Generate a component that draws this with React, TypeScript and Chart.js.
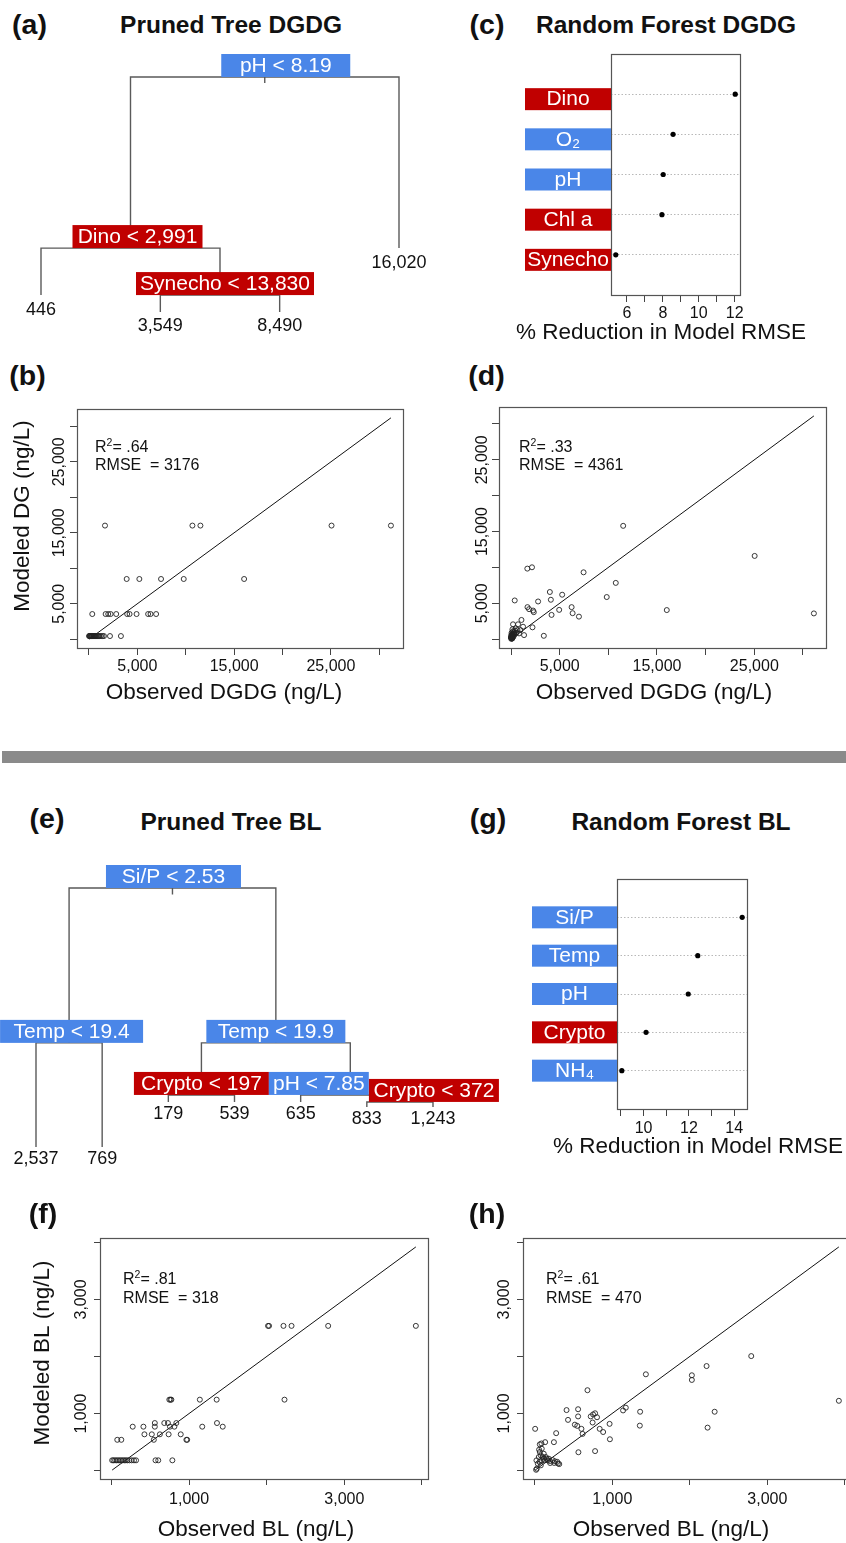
import React, { useEffect, useRef } from 'react';
import { Chart, registerables } from 'chart.js';

Chart.register(...registerables);

const FAMILY = '"Liberation Sans", Arial, Helvetica, sans-serif';
const BLUE = '#4a86e8';
const RED = '#c00000';
const INK = '#111111';

// ---------------- (a) Pruned tree DGDG (rpart node numbering) ----------------
const dgTreeNodeIds = [1, 2, 3, 4, 5, 10, 11];
const dgTreeNodeText = ['pH < 8.19', 'Dino < 2,991', '16,020', '446', 'Synecho < 13,830', '3,549', '8,490'];
const dgTreeNodeHeight = [1, 0.272, 0.272, 0.072, 0.072, 0, 0];
const dgTreeNodeGroup = ['env', 'bio', '', '', 'bio', '', ''];

// ---------------- (e) Pruned tree BL ----------------
const blTreeNodeIds = [1, 2, 3, 4, 5, 6, 7, 12, 13, 14, 15, 30, 31];
const blTreeNodeText = ['Si/P < 2.53', 'Temp < 19.4', 'Temp < 19.9', '2,537', '769', 'Crypto < 197', 'pH < 7.85', '179', '539', '635', 'Crypto < 372', '833', '1,243'];
const blTreeNodeHeight = [1, 0.402, 0.402, 0, 0, 0.201, 0.201, 0.174, 0.174, 0.174, 0.174, 0.154, 0.154];
const blTreeNodeGroup = ['env', 'env', 'env', '', '', 'bio', 'env', '', '', '', 'bio', '', ''];

// ---------------- (c) Random forest DGDG ----------------
const cLabels = ['Dino', 'O₂', 'pH', 'Chl a', 'Synecho'];
const cValues = [12.03, 8.57, 8.02, 7.95, 5.38];
const cGroups = ['bio', 'env', 'env', 'bio', 'bio'];
const cTicks = [6, 7, 8, 9, 10, 11, 12];
const cTickLabels = [6, 8, 10, 12];

// ---------------- (g) Random forest BL ----------------
const gLabels = ['Si/P', 'Temp', 'pH', 'Crypto', 'NH₄'];
const gValues = [14.35, 12.39, 11.97, 10.11, 9.04];
const gGroups = ['env', 'env', 'env', 'bio', 'env'];
const gTicks = [9, 10, 11, 12, 13, 14];
const gTickLabels = [10, 12, 14];

// ---------------- (b) Pruned tree DGDG: observed vs modeled ----------------
const bObserved = [
  1655, 10690, 11517, 25069, 31207,
  3896, 5207, 7448, 9793, 16034,
  340, 1722, 1990, 2237, 2815, 3949, 4196, 4918, 6114, 6361, 6939,
  2170, 3300, 10, 50, 90, 140, 190, 240, 290, 340, 410, 480, 550, 630, 710, 800, 900, 1000, 1100, 1250, 1400, 1550,
];
const bModeled = [
  16020, 16020, 16020, 16020, 16020,
  8490, 8490, 8490, 8490, 8490,
  3549, 3549, 3549, 3549, 3549, 3549, 3549, 3549, 3549, 3549, 3549,
  446, 446, 446, 446, 446, 446, 446, 446, 446, 446, 446, 446, 446, 446, 446, 446, 446, 446, 446, 446, 446, 446,
];

// ---------------- (d) Random forest DGDG: observed vs modeled ----------------
const dObserved = [
  31122, 25034, 16006, 11525, 10764, 9836, 7456, 6980, 6330, 6227, 5258, 4949, 4165, 4093, 3990, 3371,
  2784, 2340, 2268, 2206, 2155, 1856, 1691, 1676, 1340, 1237, 1072, 969, 825, 722, 659, 557, 485, 381,
  381, 350, 206, 206, 144, 144, 10, 50, 100, 30, 80, 150, 250, 20, 120, 60, 300, 200, 420, 10, 90, 170, 40, 110, 260,
  70, 130, 190, 30, 60,
];
const dModeled = [
  3588, 11603, 4054, 15797, 7843, 5871, 9320, 3140, 3618, 4463, 6195, 4083, 3379, 5491, 6575, 465,
  5252, 3759, 3985, 1647, 10019, 4181, 4463, 9833, 563, 1732, 2675, 1267, 802, 2070, 1267, 887, 1506, 5393,
  802, 600, 2070, 563, 1365, 516, 282, 150, 300, 400, 80, 200, 350, 50, 700, 900, 1000, 1100, 1200, 200, 450, 620, 250, 120, 780,
  160, 90, 420, 600, 230,
];

// ---------------- (f) Pruned tree BL: observed vs modeled ----------------
const fObserved = [
  2017, 2030, 2216, 2320, 2792, 3922,
  745, 760, 771, 1138, 1355, 2229,
  558, 680, 727, 835, 1359,
  273, 411, 558, 753, 810, 1169, 1433,
  424, 519, 623, 736, 892,
  74, 126, 545, 965, 975,
  567, 602, 784, 8, 25, 45, 65, 85, 105, 125, 145, 165, 185, 205, 230, 260, 290, 316,
];
const fModeled = [
  2537, 2537, 2537, 2537, 2537, 2537,
  1243, 1243, 1243, 1243, 1243, 1243,
  833, 833, 833, 833, 833,
  769, 769, 769, 769, 769, 769, 769,
  635, 635, 635, 635, 635,
  539, 539, 539, 539, 539,
  179, 179, 179, 179, 179, 179, 179, 179, 179, 179, 179, 179, 179, 179, 179, 179, 179, 179,
];

// ---------------- (h) Random forest BL: observed vs modeled ----------------
const hObserved = [
  3922, 2792, 2216, 2320, 2229, 2026, 2026, 1433, 1359, 1355, 1174, 1139, 965, 969, 882, 837, 778, 752, 722,
  803, 746, 680, 602, 617, 559, 559, 517, 548, 563, 778, 410, 429, 276, 247, 134, 86, 5,
  22, 39, 52, 65, 78, 90, 103, 116, 129, 142, 155, 168, 181, 194, 198, 61, 78, 26, 17, 56, 90, 116, 65,
  230, 260, 290, 250, 300, 316,
];
const hModeled = [
  1221, 2006, 1831, 1029, 750, 1669, 1587, 1686, 1029, 785, 1100, 1052, 816, 546, 673, 729, 1002, 982, 947,
  932, 840, 1407, 729, 640, 1073, 947, 802, 781, 318, 338, 1058, 886, 653, 495, 495, 472, 729,
  175, 117, 234, 322, 263, 175, 234, 205, 175, 234, 205, 175, 205, 164, 129, 146, 88, 29, 10, 363, 380, 292, 456,
  180, 160, 150, 130, 120, 110,
];

const dgTicks = [0, 5000, 10000, 15000, 20000, 25000, 30000];
const dgTickLabels = [5000, 15000, 25000];
const blTicks = [0, 1000, 2000, 3000, 4000];
const blTickLabels = [1000, 3000];

// ---------------- helpers ----------------
const fmt = (v: number) => v.toLocaleString('en-US');
const fnt = (s: number, b = false) => `${b ? 'bold ' : ''}${s}px ${FAMILY}`;
const groupColor = (g: string) => (g === 'env' ? BLUE : RED);

type Rect = { left: number; top: number; width: number; height: number };
type Area = { left: number; top: number; right: number; bottom: number };

function linX(rect: Rect, vA: number, pA: number, vB: number, pB: number) {
  const k = (pB - pA) / (vB - vA);
  const min = vA - (pA - rect.left) / k;
  return { min, max: min + rect.width / k };
}
function linY(rect: Rect, vA: number, pA: number, vB: number, pB: number) {
  const k = (pB - pA) / (vA - vB);
  const max = vA + (pA - rect.top) / k;
  return { min: max - rect.height / k, max };
}
function paddedRange(vals: number[]) {
  const lo = Math.min(...vals);
  const hi = Math.max(...vals);
  const e = (hi - lo) * 0.04;
  return { lo, hi, min: lo - e, max: hi + e };
}
function areaLayout(rect: Rect, area: Area) {
  return {
    padding: { left: 0, top: area.top - rect.top, right: rect.left + rect.width - area.right, bottom: 0 },
    yWidth: area.left - rect.left,
    xHeight: rect.top + rect.height - area.bottom,
  };
}
const fixedTicks = (values: number[]) => (sc: any) => {
  sc.ticks = values.map((v) => ({ value: v }));
};
const baseOptions = {
  responsive: false,
  animation: false,
  events: [],
  plugins: { legend: { display: false }, tooltip: { enabled: false } },
};

function drawRotated(ctx: CanvasRenderingContext2D, text: string, x: number, y: number) {
  ctx.save();
  ctx.translate(x, y);
  ctx.rotate(-Math.PI / 2);
  ctx.fillText(text, 0, 0);
  ctx.restore();
}

// ---------------- tree chart ----------------
type TreeSpec = {
  rect: Rect;
  ids: number[];
  text: string[];
  height: number[];
  group: string[];
  leafPx: [number, number];
  heightPx: [number, number];
  boxW: Record<number, number>;
  boxDx: Record<number, number>;
  leafDy: number;
};

function treeConfig(t: TreeSpec): any {
  const idx = new Map<number, number>();
  t.ids.forEach((id, i) => idx.set(id, i));
  const nodes = t.ids.map((id, i) => ({
    id,
    text: t.text[i],
    h: t.height[i],
    group: t.group[i],
    leaf: !idx.has(2 * id),
    x: 0,
  }));
  let leafCount = 0;
  const place = (id: number): number => {
    const n = nodes[idx.get(id)!];
    if (n.leaf) {
      n.x = leafCount++;
      return n.x;
    }
    const l = place(2 * id);
    const r = place(2 * id + 1);
    n.x = (l + r) / 2;
    return n.x;
  };
  place(1);
  const node = (id: number) => nodes[idx.get(id)!];
  const lineStyle = { showLine: true, pointRadius: 0, borderColor: '#5a5a5a', borderWidth: 1.4, fill: false };
  const datasets: any[] = nodes
    .filter((n) => !n.leaf)
    .map((n) => {
      const L = node(2 * n.id);
      const R = node(2 * n.id + 1);
      return {
        ...lineStyle,
        data: [
          { x: L.x, y: L.h },
          { x: L.x, y: n.h },
          { x: R.x, y: n.h },
          { x: R.x, y: R.h },
        ],
      };
    });
  const root = node(1);
  datasets.push({ ...lineStyle, data: [{ x: root.x, y: root.h }, { x: root.x, y: root.h - 0.025 }] });

  const xr = linX(t.rect, 0, t.leafPx[0], leafCount - 1, t.leafPx[1]);
  const yr = linY(t.rect, 1, t.heightPx[0], 0, t.heightPx[1]);

  const plugin = {
    id: 'treeLabels',
    afterDatasetsDraw(chart: any) {
      const ctx: CanvasRenderingContext2D = chart.ctx;
      const sx = chart.scales.x;
      const sy = chart.scales.y;
      ctx.save();
      ctx.textAlign = 'center';
      ctx.textBaseline = 'middle';
      for (const n of nodes) {
        const px = sx.getPixelForValue(n.x);
        const py = sy.getPixelForValue(n.h);
        if (n.leaf) {
          ctx.font = fnt(18);
          ctx.fillStyle = INK;
          ctx.fillText(n.text, px, py + t.leafDy);
        } else {
          ctx.font = fnt(21);
          const w = t.boxW[n.id] ?? ctx.measureText(n.text).width + 10;
          const cx = px + (t.boxDx[n.id] ?? 0);
          ctx.fillStyle = groupColor(n.group);
          ctx.fillRect(cx - w / 2, py - 23, w, 23);
          ctx.fillStyle = '#ffffff';
          ctx.fillText(n.text, cx, py - 11);
        }
      }
      ctx.restore();
    },
  };

  return {
    type: 'scatter',
    data: { datasets },
    options: {
      ...baseOptions,
      layout: { padding: 0 },
      scales: {
        x: { type: 'linear', display: false, min: xr.min, max: xr.max },
        y: { type: 'linear', display: false, min: yr.min, max: yr.max },
      },
    },
    plugins: [plugin],
  };
}

// ---------------- dot chart (variable importance) ----------------
type DotSpec = {
  rect: Rect;
  area: Area;
  labels: string[];
  values: number[];
  groups: string[];
  ticks: number[];
  tickLabels: number[];
  labelW: number;
  labelDy: number;
  tickPad: number;
  title: string;
  titleAt: [number, number];
};

function dotConfig(d: DotSpec): any {
  const r = paddedRange(d.values);
  const L = areaLayout(d.rect, d.area);
  const n = d.values.length;
  const rows = d.values.map((_, i) => i).concat([n, n + 1]);
  const ox = d.rect.left;
  const oy = d.rect.top;
  const plugin = {
    id: 'dotDecor',
    afterDraw(chart: any) {
      const ctx: CanvasRenderingContext2D = chart.ctx;
      const a = chart.chartArea;
      const sy = chart.scales.y;
      ctx.save();
      ctx.strokeStyle = '#555';
      ctx.lineWidth = 1.2;
      ctx.strokeRect(Math.round(a.left) + 0.5, Math.round(a.top) + 0.5, Math.round(a.right - a.left), Math.round(a.bottom - a.top));
      ctx.textAlign = 'center';
      ctx.textBaseline = 'middle';
      ctx.font = fnt(21);
      d.labels.forEach((lab, i) => {
        const cy = sy.getPixelForValue(n - i) + d.labelDy;
        ctx.fillStyle = groupColor(d.groups[i]);
        ctx.fillRect(a.left - d.labelW, cy - 11, d.labelW, 22);
        ctx.fillStyle = '#ffffff';
        ctx.fillText(lab, a.left - d.labelW / 2, cy + 0.5);
      });
      ctx.fillStyle = INK;
      ctx.font = fnt(22.5);
      ctx.fillText(d.title, d.titleAt[0] - ox, d.titleAt[1] - oy);
      ctx.restore();
    },
  };
  return {
    type: 'scatter',
    data: {
      datasets: [
        {
          data: d.values.map((v, i) => ({ x: v, y: n - i })),
          pointRadius: 2.6,
          pointBorderWidth: 0,
          pointBackgroundColor: '#000',
          showLine: false,
        },
      ],
    },
    options: {
      ...baseOptions,
      layout: { padding: L.padding },
      scales: {
        x: {
          type: 'linear',
          min: r.min,
          max: r.max,
          afterBuildTicks: fixedTicks(d.ticks),
          afterFit: (sc: any) => {
            sc.height = L.xHeight;
          },
          grid: { drawOnChartArea: false, drawTicks: true, tickLength: 7, color: '#444', lineWidth: 1 },
          border: { display: false },
          ticks: {
            autoSkip: false,
            maxRotation: 0,
            minRotation: 0,
            padding: d.tickPad,
            color: INK,
            font: { family: FAMILY, size: 16 },
            callback: (v: number) => (d.tickLabels.includes(v) ? String(v) : ''),
          },
        },
        y: {
          type: 'linear',
          min: 0,
          max: n + 1,
          afterBuildTicks: fixedTicks(rows),
          afterFit: (sc: any) => {
            sc.width = L.yWidth;
          },
          grid: {
            drawOnChartArea: true,
            drawTicks: false,
            lineWidth: 1,
            color: (c: any) => (c.tick && c.tick.value >= 1 && c.tick.value <= n ? '#b8b8b8' : 'rgba(0,0,0,0)'),
          },
          border: { display: false, dash: [1.5, 2] },
          ticks: { display: false },
        },
      },
    },
    plugins: [plugin],
  };
}

// ---------------- observed vs modeled scatter ----------------
type ScatterSpec = {
  rect: Rect;
  area: Area;
  obs: number[];
  mod: number[];
  ticks: number[];
  tickLabels: number[];
  yLabelX: number;
  tickLen: number;
  tickPad: number;
  xTitle: string;
  xTitleAt: [number, number];
  yTitle?: string;
  yTitleAt?: [number, number];
  r2: string;
  rmse: string;
  noteX: number;
  noteY: [number, number];
};

function scatterConfig(s: ScatterSpec): any {
  const r = paddedRange(s.obs);
  const L = areaLayout(s.rect, s.area);
  const ox = s.rect.left;
  const oy = s.rect.top;
  const plugin = {
    id: 'scatterDecor',
    afterDraw(chart: any) {
      const ctx: CanvasRenderingContext2D = chart.ctx;
      const a = chart.chartArea;
      const sy = chart.scales.y;
      ctx.save();
      ctx.strokeStyle = '#555';
      ctx.lineWidth = 1.2;
      ctx.strokeRect(Math.round(a.left) + 0.5, Math.round(a.top) + 0.5, Math.round(a.right - a.left), Math.round(a.bottom - a.top));
      ctx.fillStyle = INK;
      ctx.textAlign = 'center';
      ctx.textBaseline = 'middle';
      ctx.font = fnt(16);
      for (const v of s.tickLabels) {
        drawRotated(ctx, fmt(v), s.yLabelX - ox, sy.getPixelForValue(v));
      }
      ctx.font = fnt(22.5);
      ctx.fillText(s.xTitle, s.xTitleAt[0] - ox, s.xTitleAt[1] - oy);
      if (s.yTitle && s.yTitleAt) drawRotated(ctx, s.yTitle, s.yTitleAt[0] - ox, s.yTitleAt[1] - oy);
      ctx.textAlign = 'left';
      ctx.textBaseline = 'alphabetic';
      ctx.font = fnt(16);
      let x = s.noteX - ox;
      const y1 = s.noteY[0] - oy;
      ctx.fillText('R', x, y1);
      x += ctx.measureText('R').width;
      ctx.font = fnt(10.5);
      ctx.fillText('2', x, y1 - 6);
      x += ctx.measureText('2').width;
      ctx.font = fnt(16);
      ctx.fillText('= ' + s.r2, x, y1);
      ctx.fillText('RMSE  = ' + s.rmse, s.noteX - ox, s.noteY[1] - oy);
      ctx.restore();
    },
  };
  const axisCommon = {
    type: 'linear',
    min: r.min,
    max: r.max,
    afterBuildTicks: fixedTicks(s.ticks),
    grid: { drawOnChartArea: false, drawTicks: true, tickLength: s.tickLen, color: '#444', lineWidth: 1 },
    border: { display: false },
  };
  return {
    type: 'scatter',
    data: {
      datasets: [
        {
          data: s.obs.map((o, i) => ({ x: o, y: s.mod[i] })),
          pointRadius: 2.5,
          pointBorderWidth: 0.9,
          pointBorderColor: '#222',
          pointBackgroundColor: 'rgba(0,0,0,0)',
          showLine: false,
        },
        {
          data: [
            { x: r.lo, y: r.lo },
            { x: r.hi, y: r.hi },
          ],
          showLine: true,
          pointRadius: 0,
          borderColor: '#111',
          borderWidth: 1,
        },
      ],
    },
    options: {
      ...baseOptions,
      layout: { padding: L.padding },
      scales: {
        x: {
          ...axisCommon,
          afterFit: (sc: any) => {
            sc.height = L.xHeight;
          },
          ticks: {
            autoSkip: false,
            maxRotation: 0,
            minRotation: 0,
            padding: s.tickPad,
            color: INK,
            font: { family: FAMILY, size: 16 },
            callback: (v: number) => (s.tickLabels.includes(v) ? fmt(v) : ''),
          },
        },
        y: {
          ...axisCommon,
          afterFit: (sc: any) => {
            sc.width = L.yWidth;
          },
          ticks: { display: false },
        },
      },
    },
    plugins: [plugin],
  };
}

// ---------------- components ----------------
function ChartBox({ rect, build }: { rect: Rect; build: () => any }) {
  const ref = useRef<HTMLCanvasElement>(null);
  useEffect(() => {
    const chart = new Chart(ref.current as HTMLCanvasElement, build());
    return () => chart.destroy();
  }, []);
  return (
    <canvas
      ref={ref}
      width={rect.width}
      height={rect.height}
      style={{ position: 'absolute', left: rect.left, top: rect.top, width: rect.width, height: rect.height }}
    />
  );
}

function Txt({ x, y, text, size, bold = true }: { x: number; y: number; text: string; size: number; bold?: boolean }) {
  return (
    <div
      style={{
        position: 'absolute',
        left: x,
        top: y,
        transform: 'translate(-50%, -50%)',
        font: fnt(size, bold),
        lineHeight: 1,
        whiteSpace: 'nowrap',
        color: INK,
      }}
    >
      {text}
    </div>
  );
}

const rectA: Rect = { left: 0, top: 40, width: 440, height: 310 };
const rectC: Rect = { left: 440, top: 40, width: 406, height: 310 };
const rectB: Rect = { left: 0, top: 395, width: 423, height: 330 };
const rectD: Rect = { left: 423, top: 395, width: 423, height: 330 };
const rectE: Rect = { left: 0, top: 850, width: 520, height: 330 };
const rectG: Rect = { left: 440, top: 860, width: 406, height: 320 };
const rectF: Rect = { left: 0, top: 1225, width: 440, height: 318 };
const rectH: Rect = { left: 423, top: 1225, width: 440, height: 318 };

export default function App() {
  return (
    <div
      style={{
        position: 'absolute',
        left: 0,
        top: 0,
        width: 846,
        height: 1543,
        overflow: 'hidden',
        background: '#ffffff',
        fontFamily: FAMILY,
      }}
    >
      <ChartBox
        rect={rectA}
        build={() =>
          treeConfig({
            rect: rectA,
            ids: dgTreeNodeIds,
            text: dgTreeNodeText,
            height: dgTreeNodeHeight,
            group: dgTreeNodeGroup,
            leafPx: [41, 399],
            heightPx: [77, 312],
            boxW: { 1: 129, 2: 130, 5: 178 },
            boxDx: { 1: 21, 2: 7, 5: 5 },
            leafDy: 14.5,
          })
        }
      />
      <ChartBox
        rect={rectC}
        build={() =>
          dotConfig({
            rect: rectC,
            area: { left: 611, top: 54, right: 740, bottom: 295 },
            labels: cLabels,
            values: cValues,
            groups: cGroups,
            ticks: cTicks,
            tickLabels: cTickLabels,
            labelW: 86,
            labelDy: 5,
            tickPad: 1.5,
            title: '% Reduction in Model RMSE',
            titleAt: [661, 333],
          })
        }
      />
      <ChartBox
        rect={rectB}
        build={() =>
          scatterConfig({
            rect: rectB,
            area: { left: 77, top: 409, right: 403, bottom: 648 },
            obs: bObserved,
            mod: bModeled,
            ticks: dgTicks,
            tickLabels: dgTickLabels,
            yLabelX: 60,
            tickLen: 7,
            tickPad: 2.4,
            xTitle: 'Observed DGDG (ng/L)',
            xTitleAt: [224, 693],
            yTitle: 'Modeled DG (ng/L)',
            yTitleAt: [23, 516],
            r2: '.64',
            rmse: '3176',
            noteX: 95,
            noteY: [452, 470],
          })
        }
      />
      <ChartBox
        rect={rectD}
        build={() =>
          scatterConfig({
            rect: rectD,
            area: { left: 499, top: 407, right: 826, bottom: 648 },
            obs: dObserved,
            mod: dModeled,
            ticks: dgTicks,
            tickLabels: dgTickLabels,
            yLabelX: 483,
            tickLen: 7,
            tickPad: 2.4,
            xTitle: 'Observed DGDG (ng/L)',
            xTitleAt: [654, 693],
            r2: '.33',
            rmse: '4361',
            noteX: 519,
            noteY: [452, 470],
          })
        }
      />
      <ChartBox
        rect={rectE}
        build={() =>
          treeConfig({
            rect: rectE,
            ids: blTreeNodeIds,
            text: blTreeNodeText,
            height: blTreeNodeHeight,
            group: blTreeNodeGroup,
            leafPx: [36, 433],
            heightPx: [888, 1147],
            boxW: { 1: 135, 2: 143, 3: 139, 6: 135, 7: 100, 15: 130 },
            boxDx: { 1: 1, 2: 2.5, 3: 0, 6: 0, 7: -31.5, 15: 34 },
            leafDy: 12,
          })
        }
      />
      <ChartBox
        rect={rectG}
        build={() =>
          dotConfig({
            rect: rectG,
            area: { left: 617, top: 879, right: 747, bottom: 1109 },
            labels: gLabels,
            values: gValues,
            groups: gGroups,
            ticks: gTicks,
            tickLabels: gTickLabels,
            labelW: 85,
            labelDy: 0,
            tickPad: 2.7,
            title: '% Reduction in Model RMSE',
            titleAt: [698, 1147],
          })
        }
      />
      <ChartBox
        rect={rectF}
        build={() =>
          scatterConfig({
            rect: rectF,
            area: { left: 100, top: 1238, right: 428, bottom: 1479 },
            obs: fObserved,
            mod: fModeled,
            ticks: blTicks,
            tickLabels: blTickLabels,
            yLabelX: 82,
            tickLen: 6,
            tickPad: 5.4,
            xTitle: 'Observed BL (ng/L)',
            xTitleAt: [256, 1530],
            yTitle: 'Modeled BL (ng/L)',
            yTitleAt: [43, 1353],
            r2: '.81',
            rmse: '318',
            noteX: 123,
            noteY: [1284, 1303],
          })
        }
      />
      <ChartBox
        rect={rectH}
        build={() =>
          scatterConfig({
            rect: rectH,
            area: { left: 523, top: 1238, right: 851, bottom: 1479 },
            obs: hObserved,
            mod: hModeled,
            ticks: blTicks,
            tickLabels: blTickLabels,
            yLabelX: 505,
            tickLen: 6,
            tickPad: 5.4,
            xTitle: 'Observed BL (ng/L)',
            xTitleAt: [671, 1530],
            r2: '.61',
            rmse: '470',
            noteX: 546,
            noteY: [1284, 1303],
          })
        }
      />

      <Txt x={29.5} y={24} text="(a)" size={28.5} />
      <Txt x={231} y={25} text="Pruned Tree DGDG" size={24.5} />
      <Txt x={487} y={24} text="(c)" size={28.5} />
      <Txt x={666} y={25} text="Random Forest DGDG" size={24.5} />
      <Txt x={27.5} y={375} text="(b)" size={28.5} />
      <Txt x={486.5} y={375} text="(d)" size={28.5} />
      <Txt x={47} y={818} text="(e)" size={28.5} />
      <Txt x={231} y={822} text="Pruned Tree BL" size={24.5} />
      <Txt x={488} y={818} text="(g)" size={28.5} />
      <Txt x={681} y={822} text="Random Forest BL" size={24.5} />
      <Txt x={43} y={1213} text="(f)" size={28.5} />
      <Txt x={487} y={1213} text="(h)" size={28.5} />

      <div style={{ position: 'absolute', left: 2, top: 751, width: 844, height: 12, background: '#8a8a8a' }} />
    </div>
  );
}
